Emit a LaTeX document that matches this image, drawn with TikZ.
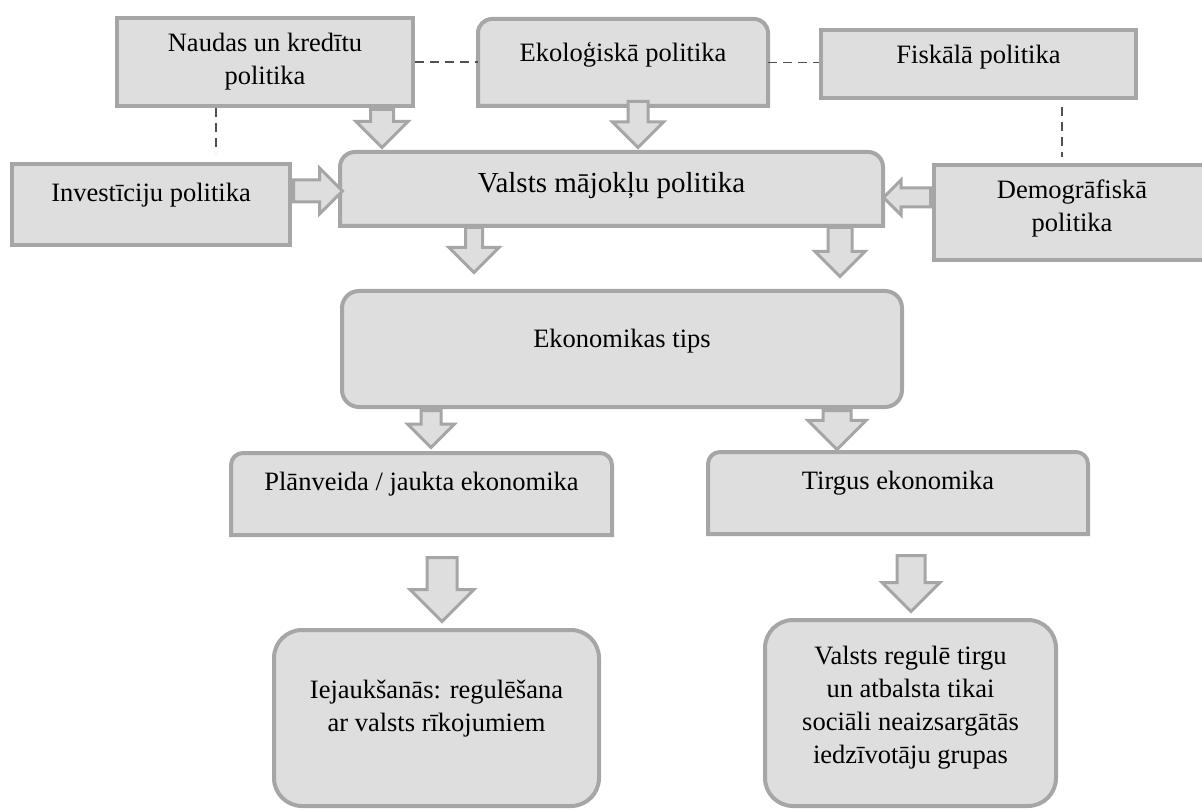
\documentclass[tikz,border=0pt]{standalone}
\usepackage{fontspec}
\setmainfont{Liberation Serif}
\usetikzlibrary{calc,shapes.arrows,backgrounds}
\definecolor{boxfill}{RGB}{222,222,222}
\definecolor{framegray}{RGB}{166,166,166}
\definecolor{dashgray}{RGB}{80,80,80}
\newcommand\bottomgap[1]{\rule[-#1]{0pt}{0pt}}
\newcommand\topframe[2]{%
    \draw[frame] (#1.south west) -- ([yshift=-#2]#1.north west)
        arc[start angle=180, end angle=90, radius=#2] -- ([xshift=-#2]#1.north east)
        arc[start angle=90, end angle=0, radius=#2] -- (#1.south east) -- cycle;}
\tikzset{
    box/.style={rectangle, draw=framegray, fill=boxfill, line width=4pt, inner sep=0pt,
        align=center, font=\fontsize{26.5pt}{33pt}\selectfont},
    rbox/.style={box, rounded corners=#1},
    tbox/.style={box, draw=none, fill=none, outer sep=0pt},
    frame/.style={draw=framegray, fill=boxfill, line width=4pt},
    dline/.style={draw=dashgray, line width=1.5pt, dash pattern=on 9pt off 6pt},
    arrowshape/.style={single arrow, draw=framegray, fill=boxfill, line width=3pt,
        inner xsep=0pt, single arrow tip angle=90},
    tailgap/.initial=0pt,
    tipgap/.initial=3pt,
    blk/.style 2 args={to path={
        let \p1=($(\tikztostart)!\pgfkeysvalueof{/tikz/tailgap}!(\tikztotarget)$),
            \p2=($(\tikztotarget)!\pgfkeysvalueof{/tikz/tipgap}!(\tikztostart)$),
            \p3=($(\p2)-(\p1)$), \n1={veclen(\x3,\y3)} in
        (\p1) -- (\p2) node[pos=0, sloped, allow upside down, anchor=tail, arrowshape,
            inner ysep=#1, single arrow head extend=#2, minimum height=\n1] {}}},
}

\begin{document}
\begin{tikzpicture}[x=1pt, y=-1pt]
    \useasboundingbox (0,0) rectangle (1202,810);
    % boxes
    \node[box, minimum width=296pt, minimum height=88pt] (naudas) at (265,62) {Naudas un kredītu\\politika};
    \node[tbox, minimum width=290pt, minimum height=87pt] (eko) at (623,62.5) {Ekoloģiskā politika\bottomgap{21pt}};
    \node[box, minimum width=315pt, minimum height=68pt] (fisk) at (978.5,64) {Fiskālā politika\bottomgap{20pt}};
    \node[box, minimum width=278pt, minimum height=81pt] (inv) at (151,204.5) {Investīciju politika\bottomgap{25pt}};
    \node[tbox, minimum width=543pt, minimum height=74pt, font=\fontsize{29pt}{35pt}\selectfont] (valsts) at (611.5,189) {Valsts mājokļu politika\bottomgap{14pt}};
    \node[box, minimum width=300pt, minimum height=95pt] (demo) at (1084,212.5) {Demogrāfiskā\hspace*{24pt}\\politika\hspace*{24pt}\bottomgap{13pt}};
    \node[rbox=17pt, minimum width=560pt, minimum height=116pt] (ekon) at (622,349) {Ekonomikas tips\bottomgap{22pt}};
    \node[tbox, minimum width=381pt, minimum height=82pt] (plan) at (421.5,494) {Plānveida / jaukta ekonomika\bottomgap{26pt}};
    \node[tbox, minimum width=380pt, minimum height=82pt] (tirgus) at (898,493) {Tirgus ekonomika\bottomgap{26pt}};
    \node[rbox=28pt, minimum width=325pt, minimum height=176pt] (iej) at (436.5,718) {Iejaukšanās: regulēšana\\ar valsts rīkojumiem\bottomgap{24pt}};
    \node[rbox=28pt, minimum width=291pt, minimum height=186pt] (vreg) at (910.5,713) {Valsts regulē tirgu\\un atbalsta tikai\\sociāli neaizsargātās\\iedzīvotāju grupas\bottomgap{16pt}};
    \begin{scope}[on background layer]
        \topframe{eko}{14pt}
        \topframe{valsts}{15pt}
        \topframe{plan}{12pt}
        \topframe{tirgus}{12pt}
    \end{scope}
    % dashed links
    \draw[dline] (naudas.east) -- (naudas.east -| eko.west);
    \draw[dline] (eko.east) -- (eko.east -| fisk.west);
    \draw[dline, shorten >=9pt] (naudas.south -| 216,0) -- (inv.north -| 216,0);
    \draw[dline, shorten <=7pt, shorten >=6pt] (fisk.south -| 1062,0) -- (demo.north -| 1062,0);
    % block arrows
    \path[tipgap=6pt] (naudas.south -| 382,0) to[blk={10pt}{14.5pt}] (valsts.north -| 382,0);
    \path[tailgap=-6pt, tipgap=6pt] (eko.south -| 638,0) to[blk={8.5pt}{15.5pt}] (valsts.north -| 638,0);
    \path[tipgap=-1pt] (inv.east |- 0,191) to[blk={9.5pt}{12pt}] (valsts.west |- 0,191);
    \path[tipgap=2pt] (demo.west |- 0,197.5) to[blk={8pt}{8pt}] (valsts.east |- 0,197.5);
    \path[tipgap=18pt] (valsts.south -| 474,0) to[blk={7pt}{16.5pt}] (ekon.north -| 474,0);
    \path[tipgap=14pt] (valsts.south -| 840,0) to[blk={10.5pt}{13pt}] (ekon.north -| 840,0);
    \path[tipgap=7pt] (ekon.south -| 431,0) to[blk={8.5pt}{13.5pt}] (plan.north -| 431,0);
    \path[tipgap=4pt] (ekon.south -| 837,0) to[blk={12.5pt}{15pt}] (tirgus.north -| 837,0);
    \path[tailgap=21pt, tipgap=8pt] (plan.south -| 442,0) to[blk={13.5pt}{17pt}] (iej.north -| 442,0);
    \path[tailgap=20pt, tipgap=8pt] (tirgus.south -| 911,0) to[blk={12.5pt}{15pt}] (vreg.north -| 911,0);
\end{tikzpicture}
\end{document}
